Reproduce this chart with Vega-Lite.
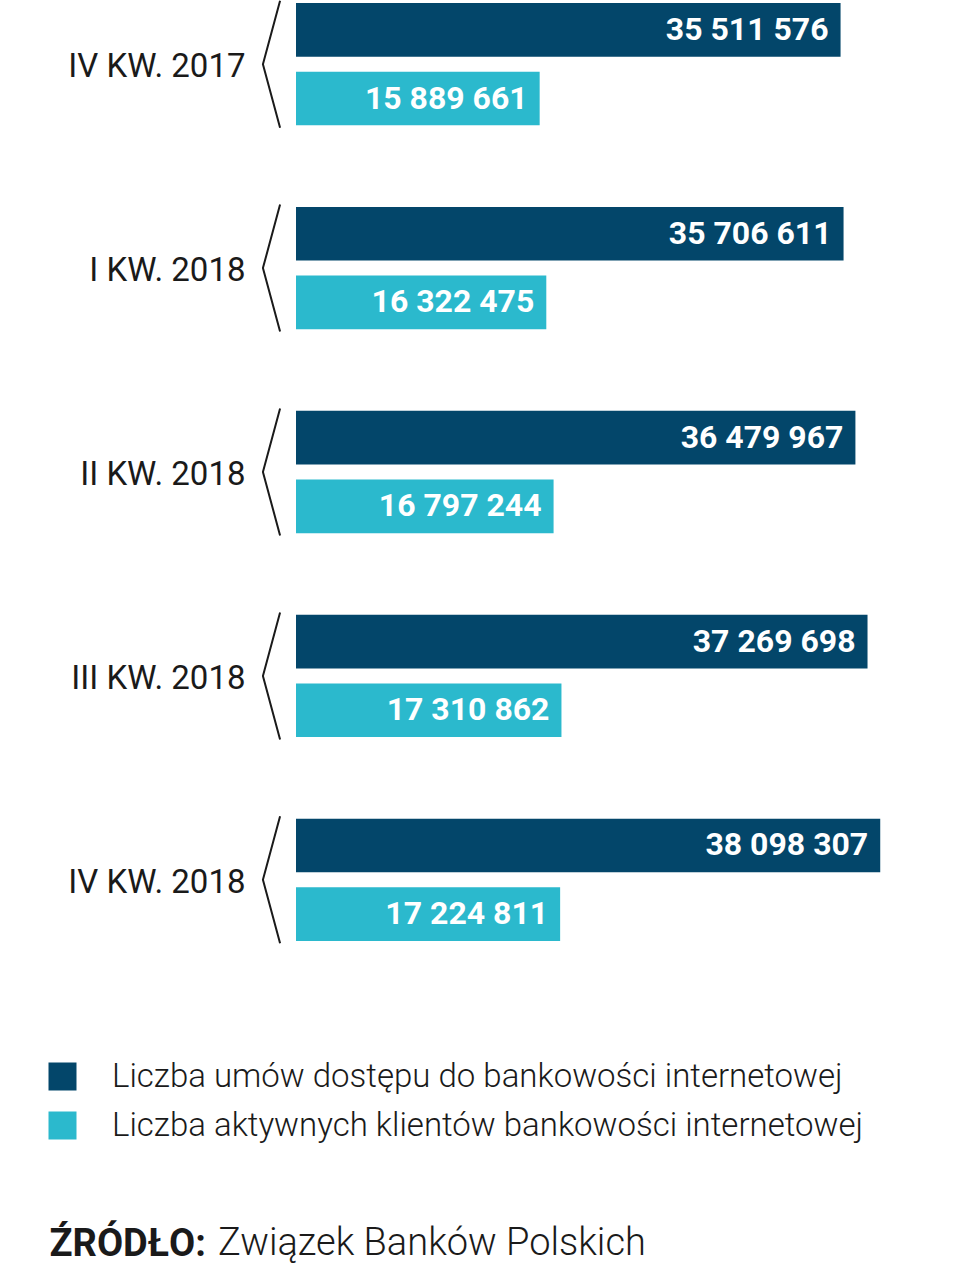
{
  "$schema": "https://vega.github.io/schema/vega-lite/v6.json",
  "autosize": "none",
  "width": 664,
  "height": 938,
  "padding": {"left": 296, "top": 3, "right": 0, "bottom": 328},
  "background": "white",
  "data": {
    "values": [
      {"kwartal": "IV KW. 2017", "seria": "Liczba umów dostępu do bankowości internetowej", "wartosc": 35511576},
      {"kwartal": "IV KW. 2017", "seria": "Liczba aktywnych klientów bankowości internetowej", "wartosc": 15889661},
      {"kwartal": "I KW. 2018", "seria": "Liczba umów dostępu do bankowości internetowej", "wartosc": 35706611},
      {"kwartal": "I KW. 2018", "seria": "Liczba aktywnych klientów bankowości internetowej", "wartosc": 16322475},
      {"kwartal": "II KW. 2018", "seria": "Liczba umów dostępu do bankowości internetowej", "wartosc": 36479967},
      {"kwartal": "II KW. 2018", "seria": "Liczba aktywnych klientów bankowości internetowej", "wartosc": 16797244},
      {"kwartal": "III KW. 2018", "seria": "Liczba umów dostępu do bankowości internetowej", "wartosc": 37269698},
      {"kwartal": "III KW. 2018", "seria": "Liczba aktywnych klientów bankowości internetowej", "wartosc": 17310862},
      {"kwartal": "IV KW. 2018", "seria": "Liczba umów dostępu do bankowości internetowej", "wartosc": 38098307},
      {"kwartal": "IV KW. 2018", "seria": "Liczba aktywnych klientów bankowości internetowej", "wartosc": 17224811}
    ]
  },
  "title": {
    "text": "Związek Banków Polskich",
    "orient": "bottom",
    "anchor": "start",
    "frame": "group",
    "dx": -78,
    "dy": -38,
    "offset": 0,
    "font": "Roboto",
    "fontSize": 38,
    "fontWeight": 300,
    "color": "#1a1a1a"
  },
  "encoding": {
    "y": {
      "field": "kwartal",
      "type": "nominal",
      "sort": ["IV KW. 2017", "I KW. 2018", "II KW. 2018", "III KW. 2018", "IV KW. 2018"],
      "scale": {"paddingInner": 0.4, "paddingOuter": 0},
      "axis": {
        "title": null,
        "domain": false,
        "ticks": false,
        "labelPadding": 51,
        "labelOffset": 3,
        "labelLimit": 300,
        "labelFont": "Roboto",
        "labelFontSize": 33,
        "labelColor": "#1a1a1a"
      }
    }
  },
  "layer": [
    {
      "mark": {"type": "bar", "cornerRadius": 0},
      "encoding": {
        "x": {
          "field": "wartosc",
          "type": "quantitative",
          "scale": {"domain": [0, 43300000], "nice": false},
          "axis": {
            "labels": false,
            "ticks": false,
            "domain": false,
            "grid": false,
            "title": "ŹRÓDŁO:",
            "titleAnchor": "start",
            "titleAlign": "left",
            "titleX": -247,
            "titleY": 314,
            "titleBaseline": "alphabetic",
            "titleFont": "Roboto",
            "titleFontSize": 38,
            "titleFontWeight": "bold",
            "titleColor": "#1a1a1a"
          }
        },
        "yOffset": {
          "field": "seria",
          "type": "nominal",
          "sort": ["Liczba umów dostępu do bankowości internetowej", "Liczba aktywnych klientów bankowości internetowej"],
          "scale": {"paddingInner": 0.219, "paddingOuter": 0}
        },
        "color": {
          "field": "seria",
          "type": "nominal",
          "scale": {
            "domain": ["Liczba umów dostępu do bankowości internetowej", "Liczba aktywnych klientów bankowości internetowej"],
            "range": ["#03466a", "#2bb9cd"]
          },
          "legend": {
            "title": null,
            "orient": "none",
            "legendX": -250,
            "legendY": 1057,
            "symbolType": "square",
            "symbolSize": 784,
            "symbolStrokeWidth": 0,
            "symbolOpacity": 1,
            "labelFont": "Roboto",
            "labelFontSize": 33,
            "labelFontWeight": 300,
            "labelColor": "#1a1a1a",
            "labelOffset": 33,
            "labelLimit": 900,
            "rowPadding": 15
          }
        }
      }
    },
    {
      "mark": {
        "type": "text",
        "align": "right",
        "baseline": "middle",
        "dx": -12,
        "font": "Roboto",
        "fontSize": 32,
        "fontWeight": "bold",
        "color": "white"
      },
      "encoding": {
        "x": {"field": "wartosc", "type": "quantitative"},
        "yOffset": {
          "field": "seria",
          "type": "nominal",
          "sort": ["Liczba umów dostępu do bankowości internetowej", "Liczba aktywnych klientów bankowości internetowej"]
        },
        "text": {"field": "wartosc", "type": "quantitative", "format": ",d"}
      }
    },
    {
      "transform": [{"filter": "datum.seria == 'Liczba umów dostępu do bankowości internetowej'"}],
      "mark": {
        "type": "point",
        "shape": "M0.135,-1L-0.135,0L0.135,1",
        "size": 16129,
        "filled": false,
        "stroke": "#1a1a1a",
        "strokeWidth": 2,
        "opacity": 1,
        "xOffset": -24.5
      },
      "encoding": {
        "x": {"datum": 0, "type": "quantitative"}
      }
    }
  ],
  "config": {
    "view": {"stroke": null},
    "locale": {
      "number": {"decimal": ",", "thousands": " ", "grouping": [3], "currency": ["", " zł"]}
    },
    "font": "Roboto"
  }
}
